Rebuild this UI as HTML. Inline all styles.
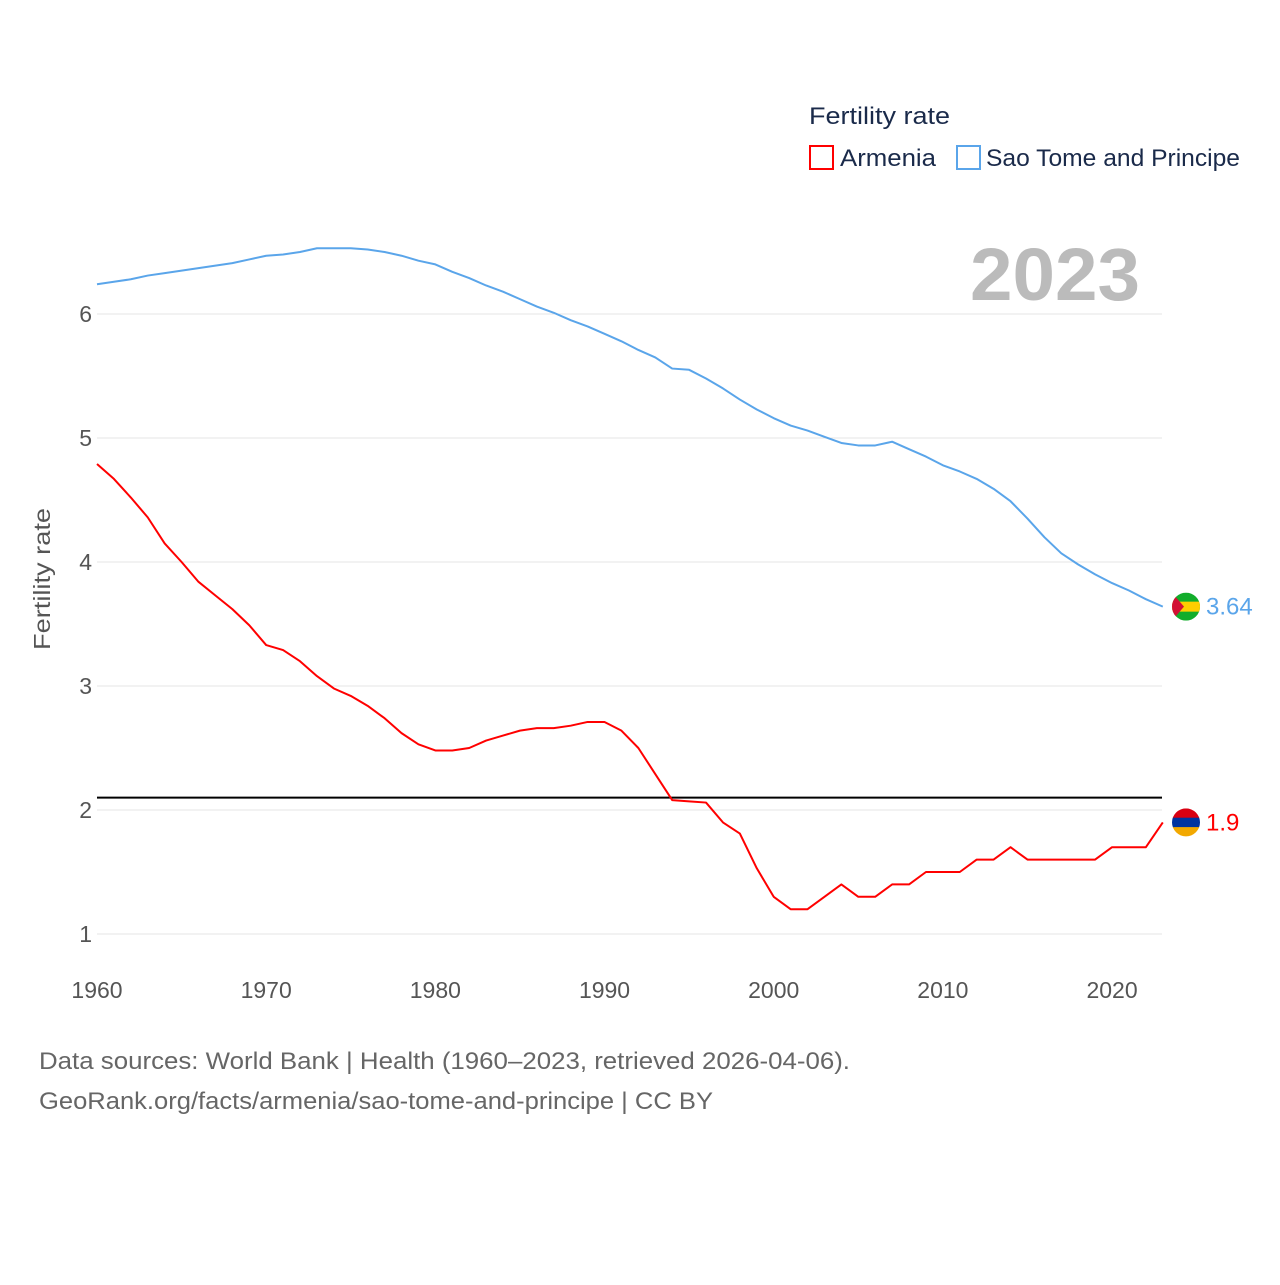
<!DOCTYPE html>
<html><head><meta charset="utf-8"><style>
html,body{margin:0;padding:0;background:#fff;}
body{width:1280px;height:1280px;overflow:hidden;font-family:"Liberation Sans",sans-serif;}
</style></head><body>
<svg id="chart" width="1280" height="1280" xmlns="http://www.w3.org/2000/svg" font-family="Liberation Sans, sans-serif">
<text x="809" y="124" font-size="24" fill="#1a2a4a" textLength="141" lengthAdjust="spacingAndGlyphs">Fertility rate</text>
<g><rect x="810" y="146" width="23" height="23" fill="none" stroke="#f00" stroke-width="2"/><text x="840" y="166" font-size="24" fill="#1a2a4a" textLength="96" lengthAdjust="spacingAndGlyphs">Armenia</text></g>
<g><rect x="957" y="146" width="23" height="23" fill="none" stroke="#5aa5ea" stroke-width="2"/><text x="986" y="166" font-size="24" fill="#1a2a4a" textLength="254" lengthAdjust="spacingAndGlyphs">Sao Tome and Principe</text></g>
<text x="970" y="300" font-size="74" font-weight="bold" fill="#bbb" textLength="170" lengthAdjust="spacingAndGlyphs">2023</text>
<text transform="translate(50,579) rotate(-90)" font-size="23" fill="#555" text-anchor="middle" textLength="142" lengthAdjust="spacingAndGlyphs">Fertility rate</text>
<g id="grid"></g><g id="series"></g>
<text x="39" y="1069" font-size="24" fill="#666" textLength="811" lengthAdjust="spacingAndGlyphs">Data sources: World Bank | Health (1960–2023, retrieved 2026-04-06).</text>
<text x="39" y="1109" font-size="24" fill="#666" textLength="674" lengthAdjust="spacingAndGlyphs">GeoRank.org/facts/armenia/sao-tome-and-principe | CC BY</text>
</svg>
<script>
const years=[];for(let y=1960;y<=2023;y++)years.push(y);
const armenia=[4.79,4.67,4.52,4.36,4.15,4.0,3.84,3.73,3.62,3.49,3.33,3.29,3.20,3.08,2.98,2.92,2.84,2.74,2.62,2.53,2.48,2.48,2.50,2.56,2.60,2.64,2.66,2.66,2.68,2.71,2.71,2.64,2.50,2.29,2.08,2.07,2.06,1.9,1.81,1.53,1.3,1.2,1.2,1.3,1.4,1.3,1.3,1.4,1.4,1.5,1.5,1.5,1.6,1.6,1.7,1.6,1.6,1.6,1.6,1.6,1.7,1.7,1.7,1.9];
const saoTome=[6.24,6.26,6.28,6.31,6.33,6.35,6.37,6.39,6.41,6.44,6.47,6.48,6.5,6.53,6.53,6.53,6.52,6.5,6.47,6.43,6.40,6.34,6.29,6.23,6.18,6.12,6.06,6.01,5.95,5.9,5.84,5.78,5.71,5.65,5.56,5.55,5.48,5.40,5.31,5.23,5.16,5.1,5.06,5.01,4.96,4.94,4.94,4.97,4.91,4.85,4.78,4.73,4.67,4.59,4.49,4.35,4.2,4.07,3.98,3.9,3.83,3.77,3.70,3.64];
const yTicks=[1,2,3,4,5,6];
const xTicks=[1960,1970,1980,1990,2000,2010,2020];
const replacement=2.1;
const NS="http://www.w3.org/2000/svg";
const X=v=>97+(v-1960)*(1162.8-97)/63;
const Y=v=>934-(v-1)*124;
function mk(t,a,p){const e=document.createElementNS(NS,t);for(const k in a)e.setAttribute(k,a[k]);p.appendChild(e);return e;}
const g=document.getElementById('grid'),s=document.getElementById('series');
yTicks.forEach(v=>{
 const l=mk('line',{x1:97,x2:1162,y1:Y(v),y2:Y(v),stroke:'#e6e6e6','stroke-width':1},g);
 
 
 const t=mk('text',{x:92,y:Y(v)+8,'font-size':23,fill:'#555','text-anchor':'end'},g);t.textContent=v;
 
 
});
xTicks.forEach(v=>{
 const t=mk('text',{x:X(v),y:998,'font-size':23,fill:'#555','text-anchor':'middle'},g);t.textContent=v;
 
 
});
const rl=mk('line',{x1:97,x2:1162,y1:Y(replacement),y2:Y(replacement),stroke:'#000','stroke-width':2},s);


function line(data,color,name){
 const p=mk('polyline',{points:data.map((v,i)=>X(years[i])+','+Y(v)).join(' '),fill:'none',stroke:color,'stroke-width':2,'stroke-linejoin':'round'},s);
 
 
}
line(saoTome,'#5aa5ea','sao-tome-line');
line(armenia,'#f00','armenia-line');
const last=years.length-1;
const cy1=Y(saoTome[last]),cy2=Y(armenia[last]);
const f1=mk('g',{},s);


const cp1=mk('clipPath',{id:'c1'},f1);mk('circle',{cx:1186,cy:cy1,r:14},cp1);
const fg1=mk('g',{'clip-path':'url(#c1)'},f1);
mk('rect',{x:1172,y:cy1-14,width:28,height:28,fill:'#12ad2b'},fg1);
mk('rect',{x:1172,y:cy1-5,width:28,height:10,fill:'#ffce00'},fg1);
mk('polygon',{points:`1172,${cy1-14} 1184,${cy1} 1172,${cy1+14}`,fill:'#d21034'},fg1);
const f2=mk('g',{},s);


const cp2=mk('clipPath',{id:'c2'},f2);mk('circle',{cx:1186,cy:cy2,r:14},cp2);
const fg2=mk('g',{'clip-path':'url(#c2)'},f2);
mk('rect',{x:1172,y:cy2-14,width:28,height:10,fill:'#d90012'},fg2);
mk('rect',{x:1172,y:cy2-4.7,width:28,height:10,fill:'#0033a0'},fg2);
mk('rect',{x:1172,y:cy2+4.7,width:28,height:10,fill:'#f2a800'},fg2);
const l1=mk('text',{x:1206,y:cy1+8,'font-size':24,fill:'#5aa5ea'},s);l1.textContent=saoTome[last].toFixed(2);


const l2=mk('text',{x:1206,y:cy2+8,'font-size':24,fill:'#f00'},s);l2.textContent=String(armenia[last]);


</script>
</body></html>
